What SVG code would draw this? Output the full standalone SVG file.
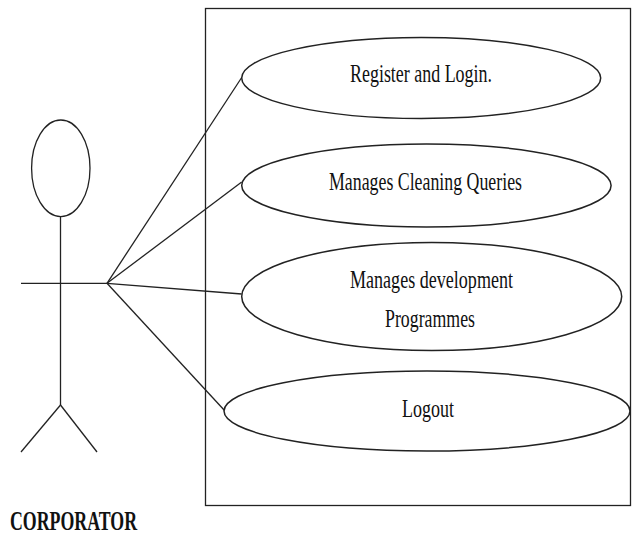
<svg xmlns="http://www.w3.org/2000/svg" width="634" height="540" viewBox="0 0 634 540">
<style>
.ln{stroke:#222;stroke-width:1.3;fill:none}
.uc{fill:#fff;stroke:#222;stroke-width:1.5}
.lb{font-family:"Liberation Serif","Times New Roman",serif;font-size:26px;fill:#111;text-anchor:middle}
.act{font-family:"Liberation Serif","Times New Roman",serif;font-size:27px;font-weight:bold;fill:#111}
</style>
<rect width="634" height="540" fill="#fff"/>
<g id="system">
<rect x="205.5" y="8.5" width="425" height="497" fill="none" stroke="#222" stroke-width="1.3"/>
</g>
<g id="connectors">
<line class="ln" x1="107" y1="283.3" x2="241.7" y2="77.5"/>
<line class="ln" x1="107" y1="283.3" x2="241.7" y2="182"/>
<line class="ln" x1="107" y1="283.3" x2="241.7" y2="294"/>
<line class="ln" x1="107" y1="283.3" x2="225" y2="411"/>
</g>
<g id="actor">
<ellipse class="ln" cx="60.8" cy="168.3" rx="29.2" ry="48.3"/>
<line class="ln" x1="60.5" y1="216.6" x2="60.5" y2="405"/>
<line class="ln" x1="21" y1="283.3" x2="107" y2="283.3"/>
<line class="ln" x1="60.5" y1="405" x2="21" y2="452"/>
<line class="ln" x1="60.5" y1="405" x2="97" y2="452"/>
<text class="act" x="10" y="530" textLength="127" lengthAdjust="spacingAndGlyphs">CORPORATOR</text>
</g>
<g id="uc1">
<ellipse class="uc" cx="421.2" cy="78" rx="179.5" ry="40.5"/>
<text class="lb" x="421" y="82" textLength="142" lengthAdjust="spacingAndGlyphs">Register and Login.</text>
</g>
<g id="uc2">
<ellipse class="uc" cx="426.4" cy="185.5" rx="184.7" ry="41.5"/>
<text class="lb" x="425.5" y="190" textLength="193" lengthAdjust="spacingAndGlyphs">Manages Cleaning Queries</text>
</g>
<g id="uc3">
<ellipse class="uc" cx="431.7" cy="296.5" rx="190" ry="54"/>
<text class="lb" x="431.5" y="288" textLength="163" lengthAdjust="spacingAndGlyphs">Manages development</text>
<text class="lb" x="430" y="327" textLength="90" lengthAdjust="spacingAndGlyphs">Programmes</text>
</g>
<g id="uc4">
<ellipse class="uc" cx="427" cy="411" rx="203" ry="40"/>
<text class="lb" x="428" y="416.5" textLength="52" lengthAdjust="spacingAndGlyphs">Logout</text>
</g>
</svg>
